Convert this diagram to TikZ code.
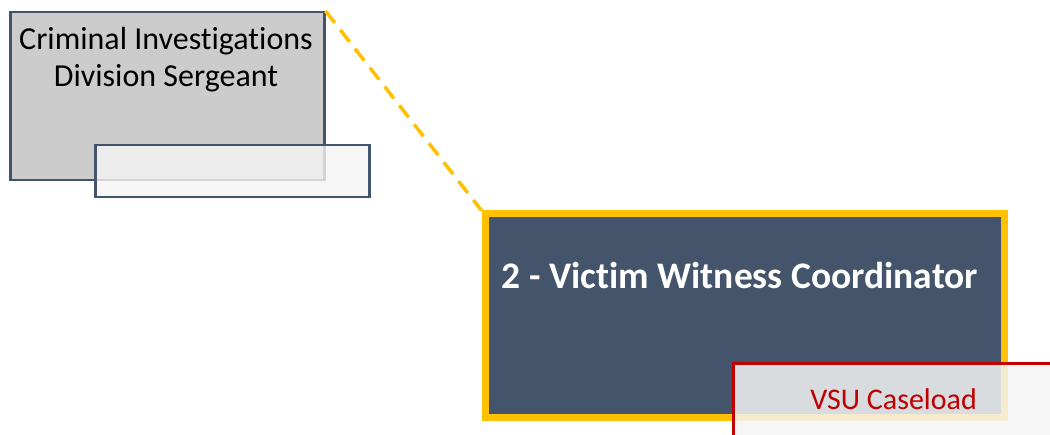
\documentclass[tikz,border=0pt]{standalone}
\usepackage{fontspec}
\setmainfont{Carlito}[Ligatures={NoCommon}]
\definecolor{slate}{HTML}{44546A}
\definecolor{gold}{HTML}{FFC000}
\definecolor{darkred}{HTML}{C00000}
\definecolor{boxgray}{HTML}{CCCCCC}
\definecolor{paper}{HTML}{F4F4F4}
\tikzset{
  mgrbox/.style={draw=slate, line width=2.5pt, fill=boxgray, anchor=north west, inner sep=0pt},
  tagbox/.style={draw=slate, line width=2.5pt, fill=paper, fill opacity=0.8, anchor=north west, inner sep=0pt},
  mainbox/.style={draw=gold, line width=7pt, fill=slate, anchor=north west, inner sep=0pt},
  vsubox/.style={draw=darkred, line width=3pt, fill=paper, fill opacity=0.85, anchor=north west, inner sep=0pt},
  link/.style={draw=gold, line width=3.5pt, dash pattern=on 15pt off 9pt},
}
\begin{document}
\begin{tikzpicture}[x=1pt,y=-1pt]
\useasboundingbox (0,0) rectangle (1050,435);
\clip (0,0) rectangle (1050,435);
\node[mgrbox, minimum width=314pt, minimum height=168pt] (mgr) at (9,11) {};
\node[anchor=north, align=center, font=\fontsize{32}{37}\selectfont, text=black, inner sep=0pt] (mgrtext) at (166,27) {Criminal Investigations\\Division Sergeant};
\node[tagbox, minimum width=274pt, minimum height=52pt] (mgrtag) at (94,144) {};
\node[mainbox, minimum width=519pt, minimum height=204pt] (vwc) at (481.5,210.5) {};
\node[font=\bfseries\fontsize{37.5}{42}\selectfont, text=white, inner sep=0pt] (vwctext) at (740,275) {2 - Victim Witness Coordinator};
\node[vsubox, minimum width=360pt, minimum height=90pt] (vsu) at (731.5,362.5) {};
\node[anchor=east, font=\fontsize{30}{34}\selectfont, text=darkred, inner sep=0pt] (vsutext) at (977,399) {VSU Caseload};
\draw[link] (mgr.north east) -- (vwc.north west);
\end{tikzpicture}
\end{document}
